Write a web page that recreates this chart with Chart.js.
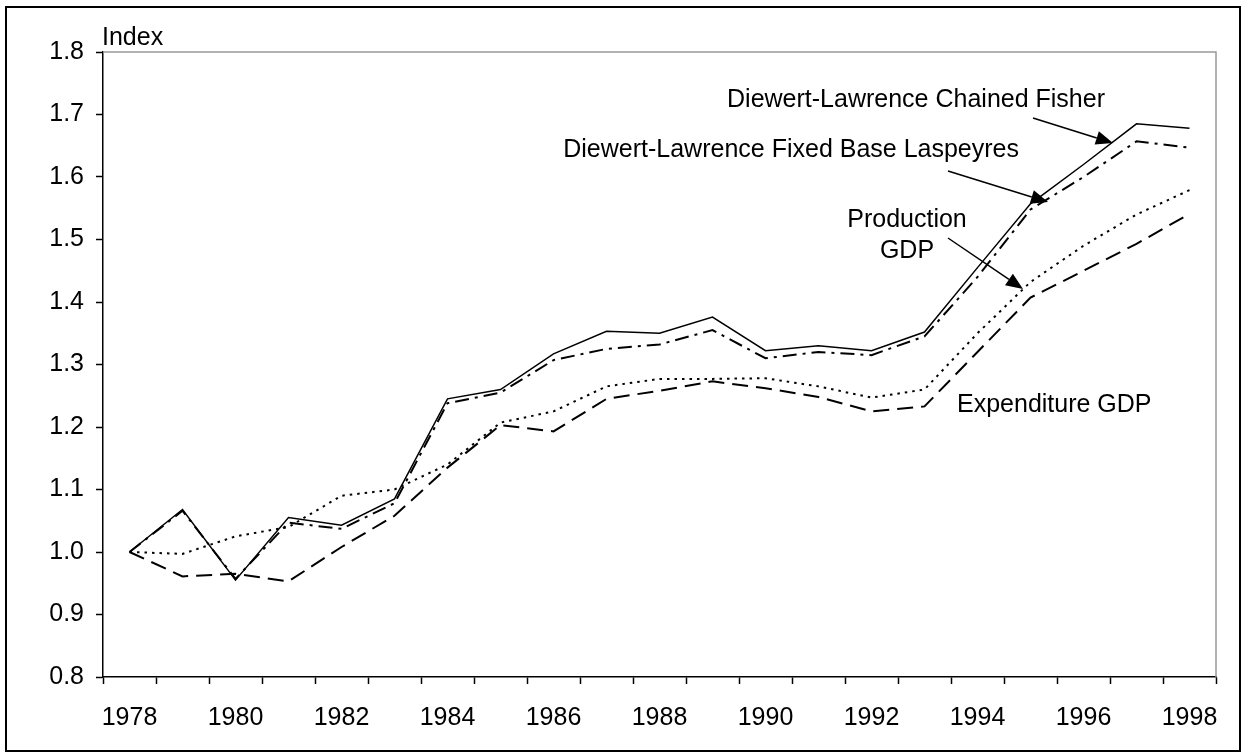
<!DOCTYPE html>
<html>
<head>
<meta charset="utf-8">
<script src="https://cdn.jsdelivr.net/npm/chart.js@4/dist/chart.umd.min.js"></script>
<style>
    html, body { margin: 0; padding: 0; background: #fff; }
    #wrap { position: relative; width: 1246px; height: 756px; }
</style>
</head>
<body>
<div id="wrap"><canvas id="chart"></canvas></div>
<script>
// data
const years = ['1978', '1979', '1980', '1981', '1982', '1983', '1984', '1985', '1986', '1987', '1988',
    '1989', '1990', '1991', '1992', '1993', '1994', '1995', '1996', '1997', '1998'];
const tickYears = ['1978', '1980', '1982', '1984', '1986', '1988', '1990', '1992', '1994', '1996', '1998'];

const chainedFisher = [1.000, 1.068, 0.955, 1.055, 1.043, 1.085, 1.245, 1.260, 1.317, 1.353, 1.350,
    1.376, 1.322, 1.330, 1.322, 1.352, 1.455, 1.557, 1.620, 1.685, 1.678];
const fixedLaspeyres = [1.000, 1.066, 0.957, 1.047, 1.037, 1.078, 1.238, 1.255, 1.307, 1.325, 1.332,
    1.355, 1.310, 1.320, 1.315, 1.345, 1.440, 1.548, 1.600, 1.657, 1.647];
const productionGdp = [1.000, 0.997, 1.025, 1.040, 1.090, 1.100, 1.140, 1.207, 1.225, 1.265, 1.277,
    1.277, 1.278, 1.265, 1.247, 1.260, 1.350, 1.432, 1.490, 1.540, 1.579];
const expenditureGdp = [1.000, 0.961, 0.965, 0.953, 1.008, 1.058, 1.135, 1.203, 1.193, 1.245, 1.258,
    1.273, 1.262, 1.248, 1.225, 1.233, 1.320, 1.407, 1.450, 1.493, 1.541];

const yMin = 0.8;
const yMax = 1.8;
const yStep = 0.1;

const FONT = 'Liberation Sans, Arial, sans-serif';
const FONT_SIZE = 25;

/**
 * Frame, plot-area border, axis title and arrow labels
 */
const decorations = {
    id: 'decorations',
    afterDraw(chart) {
        const ctx = chart.ctx;
        const area = chart.chartArea;
        ctx.save();

        // grey plot-area border (top and right)
        ctx.strokeStyle = '#999';
        ctx.lineWidth = 1.5;
        ctx.beginPath();
        ctx.moveTo(area.left, area.top);
        ctx.lineTo(area.right, area.top);
        ctx.lineTo(area.right, area.bottom);
        ctx.stroke();

        // outer frame
        ctx.strokeStyle = '#000';
        ctx.lineWidth = 2;
        ctx.strokeRect(6, 7, 1234, 744);

        ctx.fillStyle = '#000';
        ctx.font = FONT_SIZE + 'px ' + FONT;
        ctx.textBaseline = 'middle';

        ctx.textAlign = 'left';
        ctx.fillText('Index', area.left - 1, 38);

        ctx.textAlign = 'right';
        ctx.fillText('Diewert-Lawrence Chained Fisher', 1105, 100);
        ctx.fillText('Diewert-Lawrence Fixed Base Laspeyres', 1019, 150);
        ctx.textAlign = 'center';
        ctx.fillText('Production', 907, 220);
        ctx.fillText('GDP', 907, 251);
        ctx.textAlign = 'left';
        ctx.fillText('Expenditure GDP', 957, 405);

        const arrow = (x1, y1, x2, y2) => {
            const ang = Math.atan2(y2 - y1, x2 - x1);
            const len = 17, half = 7;
            const bx = x2 - len * Math.cos(ang), by = y2 - len * Math.sin(ang);
            ctx.lineWidth = 1.5;
            ctx.beginPath();
            ctx.moveTo(x1, y1);
            ctx.lineTo(bx, by);
            ctx.stroke();
            ctx.beginPath();
            ctx.moveTo(x2, y2);
            ctx.lineTo(bx + half * Math.sin(ang), by - half * Math.cos(ang));
            ctx.lineTo(bx - half * Math.sin(ang), by + half * Math.cos(ang));
            ctx.closePath();
            ctx.fill();
        };
        arrow(1033, 118, 1113, 143);
        arrow(948, 171, 1048, 202);
        arrow(948, 238, 1023, 289);

        ctx.restore();
    }
};

const ctx = document.getElementById('chart');

new Chart(ctx, {
    type: 'line',
    data: {
        labels: years,
        datasets: [
            {
                label: 'Diewert-Lawrence Chained Fisher',
                data: chainedFisher,
                borderColor: '#000',
                borderWidth: 1.5
            },
            {
                label: 'Diewert-Lawrence Fixed Base Laspeyres',
                data: fixedLaspeyres,
                borderColor: '#000',
                borderWidth: 2,
                borderDash: [14, 6, 3, 6]
            },
            {
                label: 'Production GDP',
                data: productionGdp,
                borderColor: '#000',
                borderWidth: 2,
                borderDash: [2.5, 5]
            },
            {
                label: 'Expenditure GDP',
                data: expenditureGdp,
                borderColor: '#000',
                borderWidth: 2,
                borderDash: [16, 8]
            }
        ]
    },
    options: {
        responsive: true,
        maintainAspectRatio: false,
        animation: false,
        events: [],
        elements: {
            point: { radius: 0 },
            line: { tension: 0 }
        },
        layout: {
            padding: { top: 52, right: 30, left: 0, bottom: 0 }
        },
        plugins: {
            legend: { display: false },
            tooltip: { enabled: false }
        },
        scales: {
            x: {
                offset: true,
                grid: {
                    offset: true,
                    drawOnChartArea: false,
                    drawTicks: true,
                    tickLength: 7,
                    tickColor: '#000',
                    tickWidth: 1.5
                },
                border: { color: '#000', width: 1.5 },
                ticks: {
                    autoSkip: false,
                    maxRotation: 0,
                    padding: 19,
                    color: '#000',
                    font: { family: FONT, size: FONT_SIZE },
                    callback: function (value) {
                        const label = this.getLabelForValue(value);
                        return tickYears.includes(label) ? label : '';
                    }
                },
                afterFit: (scale) => { scale.height = 79; }
            },
            y: {
                min: yMin,
                max: yMax,
                grid: {
                    drawOnChartArea: false,
                    drawTicks: true,
                    tickLength: 7,
                    tickColor: '#000',
                    tickWidth: 1.5
                },
                border: { color: '#000', width: 1.5 },
                ticks: {
                    stepSize: yStep,
                    padding: 12,
                    color: '#000',
                    font: { family: FONT, size: FONT_SIZE },
                    callback: (value) => value.toFixed(1)
                },
                afterFit: (scale) => { scale.width = 103; }
            }
        }
    },
    plugins: [decorations]
});
</script>
</body>
</html>
